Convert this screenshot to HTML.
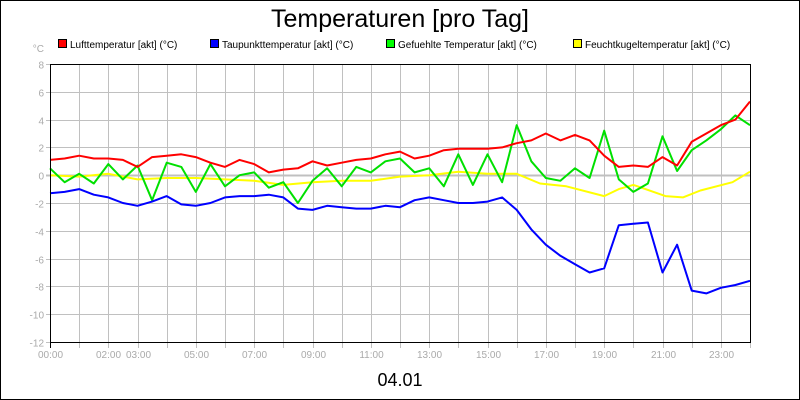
<!DOCTYPE html>
<html><head><meta charset="utf-8"><style>
body{margin:0;background:#fff}
svg{display:block;font-family:"Liberation Sans",sans-serif}
</style></head><body>
<svg id="c" width="800" height="400">
<rect x="0.5" y="0.5" width="799" height="399" fill="#fff" stroke="#000"/>
<text x="400" y="27" font-size="25" text-anchor="middle">Temperaturen [pro Tag]</text>
<text x="44" y="52" font-size="10" fill="#aaa" text-anchor="end">°C</text>
<g font-size="10">
<g><rect x="58.5" y="39.5" width="8" height="8" fill="#f00" stroke="#000"/><text x="70" y="48">Lufttemperatur [akt] (°C)</text></g>
<g><rect x="210.5" y="39.5" width="8" height="8" fill="#00f" stroke="#000"/><text x="222" y="48">Taupunkttemperatur [akt] (°C)</text></g>
<g><rect x="386.5" y="39.5" width="8" height="8" fill="#0f0" stroke="#000"/><text x="398" y="48">Gefuehlte Temperatur [akt] (°C)</text></g>
<g><rect x="573.5" y="39.5" width="8" height="8" fill="#ff0" stroke="#000"/><text x="585" y="48">Feuchtkugeltemperatur [akt] (°C)</text></g>
</g>
<g id="grid"></g>
<g id="series"></g>
<rect x="50.5" y="64.5" width="700" height="278" fill="none" stroke="#000"/>
<text x="400" y="386" font-size="18" text-anchor="middle">04.01</text>
</svg>
<script>
const yTicks=[8,6,4,2,0,-2,-4,-6,-8,-10,-12];
const xTickLabels=["00:00","","02:00","03:00","","05:00","","07:00","","09:00","","11:00","","13:00","","15:00","","17:00","","19:00","","21:00","","23:00",""];
const halfHours=[0,0.5,1,1.5,2,2.5,3,3.5,4,4.5,5,5.5,6,6.5,7,7.5,8,8.5,9,9.5,10,10.5,11,11.5,12,12.5,13,13.5,14,14.5,15,15.5,16,16.5,17,17.5,18,18.5,19,19.5,20,20.5,21,21.5,22,22.5,23,23.5,24];
const luft=[1.1,1.2,1.4,1.2,1.2,1.1,0.6,1.3,1.4,1.5,1.3,0.9,0.6,1.1,0.8,0.2,0.4,0.5,1.0,0.7,0.9,1.1,1.2,1.5,1.7,1.2,1.4,1.8,1.9,1.9,1.9,2.0,2.3,2.5,3.0,2.5,2.9,2.5,1.4,0.6,0.7,0.6,1.3,0.7,2.4,3.0,3.6,4.0,5.3];
const taupunkt=[-1.3,-1.2,-1.0,-1.4,-1.6,-2.0,-2.2,-1.9,-1.5,-2.1,-2.2,-2.0,-1.6,-1.5,-1.5,-1.4,-1.6,-2.4,-2.5,-2.2,-2.3,-2.4,-2.4,-2.2,-2.3,-1.8,-1.6,-1.8,-2.0,-2.0,-1.9,-1.6,-2.5,-3.9,-5.0,-5.8,-6.4,-7.0,-6.7,-3.6,-3.5,-3.4,-7.0,-5.0,-8.3,-8.5,-8.1,-7.9,-7.6];
const gefuehlt=[0.5,-0.5,0.1,-0.6,0.8,-0.3,0.7,-1.8,0.9,0.6,-1.2,0.8,-0.8,0.0,0.2,-0.9,-0.5,-2.0,-0.4,0.5,-0.8,0.6,0.2,1.0,1.2,0.2,0.5,-0.8,1.5,-0.7,1.5,-0.5,3.6,1.0,-0.2,-0.4,0.5,-0.2,3.2,-0.3,-1.2,-0.6,2.8,0.3,1.8,2.5,3.3,4.3,3.6];
const feuchtHours=[0,1,2,3,4,5,6,7,8,9,10,11,12,13,14,15,16,16.8,17.7,19,19.5,20,21.1,21.7,22.3,23.4,24];
const feucht=[0.0,-0.1,0.1,-0.3,-0.2,-0.2,-0.3,-0.4,-0.7,-0.5,-0.4,-0.4,-0.1,0.0,0.25,0.1,0.1,-0.6,-0.8,-1.5,-1.0,-0.7,-1.5,-1.6,-1.1,-0.5,0.25];
const X=h=>50+h*700/24, Y=v=>64+(8-v)*278/20;
const ns="http://www.w3.org/2000/svg", g=document.getElementById('grid'), s=document.getElementById('series');
function mk(tag,a,p){const e=document.createElementNS(ns,tag);for(const k in a)e.setAttribute(k,a[k]);p.appendChild(e);return e;}
for(let h=0;h<=24;h++){const x=Math.round(X(h))+0.5;
 const l=mk('line',{x1:x,x2:x,y1:64,y2:348,stroke:h==0?'#000':'#c0c0c0'},g);
 
 
 if(xTickLabels[h]){const t=mk('text',{x:x,y:358,'font-size':10,fill:'#aaa','text-anchor':'middle'},g);t.textContent=xTickLabels[h];
 
 }}
yTicks.forEach(v=>{const y=Math.round(Y(v))+0.5;
 const l=mk('line',{x1:46,x2:750,y1:y,y2:y,stroke:'#c0c0c0','stroke-width':v==0?2:1},g);
 
 
 const t=mk('text',{x:44,y:y+4,'font-size':10,fill:'#aaa','text-anchor':'end'},g);t.textContent=v;
 
 });
function line(hs,vs,col,name){const p=mk('polyline',{points:hs.map((h,i)=>X(h).toFixed(1)+','+Y(vs[i]).toFixed(1)).join(' '),fill:'none',stroke:col,'stroke-width':2,'stroke-linejoin':'round'},s);
 
 }
line(feuchtHours,feucht,'#ffff00','feuchtkugel-line');
line(halfHours,gefuehlt,'#00e000','gefuehlt-line');
line(halfHours,taupunkt,'#0000ff','taupunkt-line');
line(halfHours,luft,'#ff0000','luft-line');
</script>
</body></html>
